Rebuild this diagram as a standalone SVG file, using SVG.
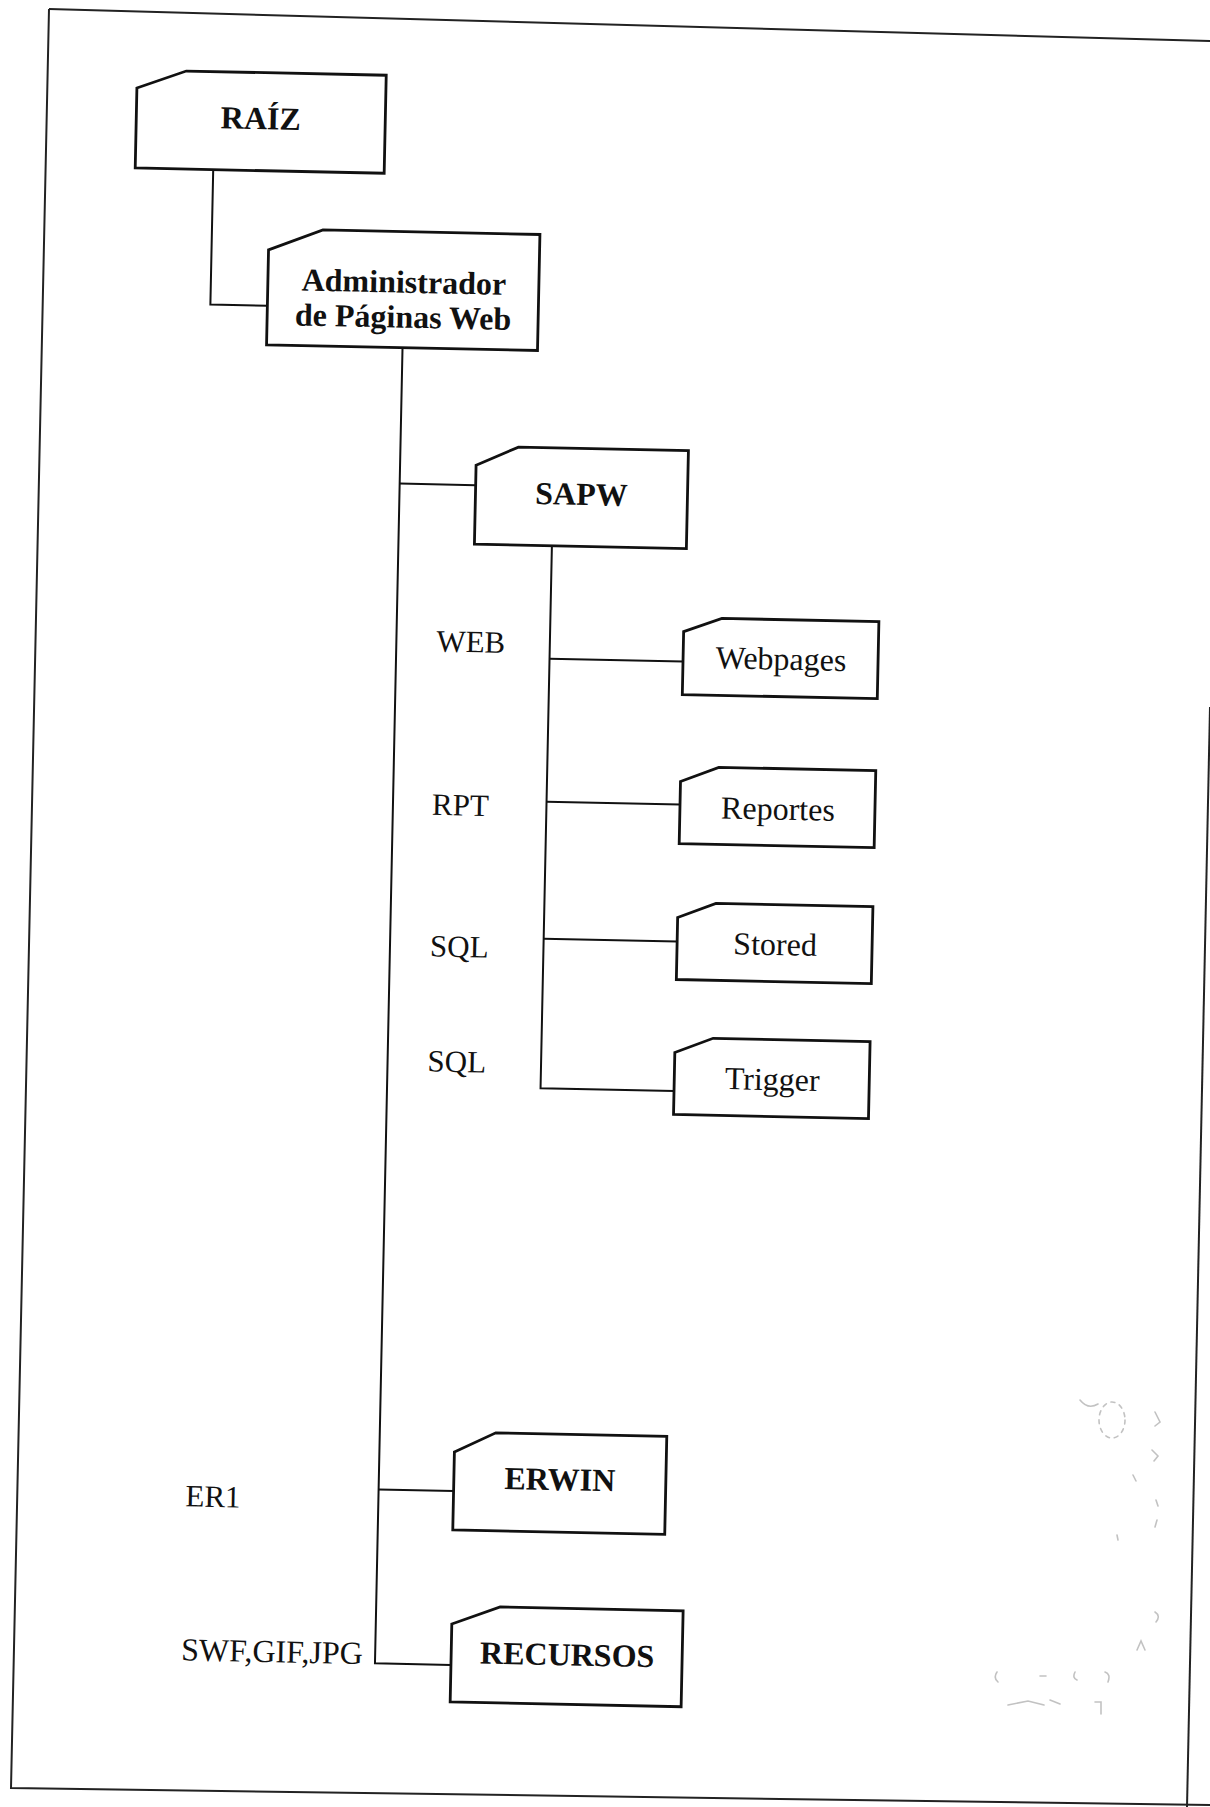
<svg xmlns="http://www.w3.org/2000/svg" width="1210" height="1807" viewBox="0 0 1210 1807">
<style>
.box{fill:#fff;stroke:#111;stroke-width:2.8;stroke-linejoin:miter}
.conn{fill:none;stroke:#111;stroke-width:2}
.page{fill:none;stroke:#222;stroke-width:2}
.t{font-family:"Liberation Serif","Times New Roman",serif;fill:#111}
.n{font-size:32px;text-anchor:middle}
.b{font-size:32px;font-weight:bold;text-anchor:middle}
.l{font-size:31px}
.stamp{fill:none;stroke:#9a9a9a;stroke-width:1.6;stroke-linecap:round;opacity:0.6}
</style>
<rect width="1210" height="1807" fill="#fff"/>
<g id="page-border">
<path class="page" d="M49,9 L1210,41"/>
<path class="page" d="M49,9 L11,1788 L1210,1805"/>
<path class="page" d="M1210,707 L1187,1807"/>
</g>
<g id="stamp">
<ellipse class="stamp" cx="1112" cy="1420" rx="13" ry="18" stroke-dasharray="4 5"/>
<path class="stamp" d="M1080,1400 q8,10 18,4 M1155,1412 l5,10 l-5,4 M1152,1450 l6,6 l-4,5 M1133,1475 l3,6 M1156,1500 l2,6 M1157,1520 l-2,7 M1117,1535 l1,5 M1155,1612 q6,4 1,10 M1137,1650 l4,-9 l4,9 M997,1672 q-4,6 1,10 M1040,1676 l6,0 M1075,1672 q-3,6 2,8 M1105,1672 q6,2 3,10 M1008,1705 l20,-4 l16,4 M1050,1700 l10,4 M1095,1702 l6,0 l0,12"/>
</g>
<g transform="rotate(1.2 605 900)">
<g id="connectors">
<path class="conn" d="M198,178 V313 H255"/>
<path class="conn" d="M391,352 V1668 H467"/>
<path class="conn" d="M391,488 H467"/>
<path class="conn" d="M391,1494 H466"/>
<path class="conn" d="M544.5,547 V1089.5 H678"/>
<path class="conn" d="M544.5,660 H678"/>
<path class="conn" d="M544.5,803 H678"/>
<path class="conn" d="M544.5,940 H678"/>
</g>
<g id="raiz">
<polygon class="box" points="120,98 169,80 369,80 369,178 120,178"/>
<text class="t b" x="244.5" y="136.5">RAÍZ</text>
</g>
<g id="administrador">
<polygon class="box" points="255,257 309,236 526,236 526,352 255,352"/>
<text class="t b" x="391" y="297">Administrador</text>
<text class="t b" x="391" y="332">de Páginas Web</text>
</g>
<g id="sapw">
<polygon class="box" points="467,468 509,449 679,449 679,547 467,547"/>
<text class="t b" x="573" y="505.5">SAPW</text>
</g>
<g id="webpages">
<polygon class="box" points="678,630 716,616 873,616 873,693 678,693"/>
<text class="t n" x="776" y="666">Webpages</text>
</g>
<g id="reportes">
<polygon class="box" points="678,780 716,765 873,765 873,842 678,842"/>
<text class="t n" x="776" y="816">Reportes</text>
</g>
<g id="stored">
<polygon class="box" points="678,916 716,901 873,901 873,978 678,978"/>
<text class="t n" x="776" y="951.5">Stored</text>
</g>
<g id="trigger">
<polygon class="box" points="678,1051 716,1036 873,1036 873,1113 678,1113"/>
<text class="t n" x="776" y="1086.5">Trigger</text>
</g>
<g id="erwin">
<polygon class="box" points="466,1455 507,1435 678,1435 678,1533 466,1533"/>
<text class="t b" x="572" y="1491">ERWIN</text>
</g>
<g id="recursos">
<polygon class="box" points="467,1627 515,1609 698,1609 698,1705 467,1705"/>
<text class="t b" x="583" y="1666">RECURSOS</text>
</g>
<g id="labels">
<text class="t l" x="431" y="655">WEB</text>
<text class="t l" x="430" y="818.5">RPT</text>
<text class="t l" x="431" y="960">SQL</text>
<text class="t l" x="431" y="1075">SQL</text>
<text class="t l" x="198" y="1515">ER1</text>
<text class="t l" x="197" y="1669" style="font-size:32px">SWF,GIF,JPG</text>
</g>
</g>
</svg>
